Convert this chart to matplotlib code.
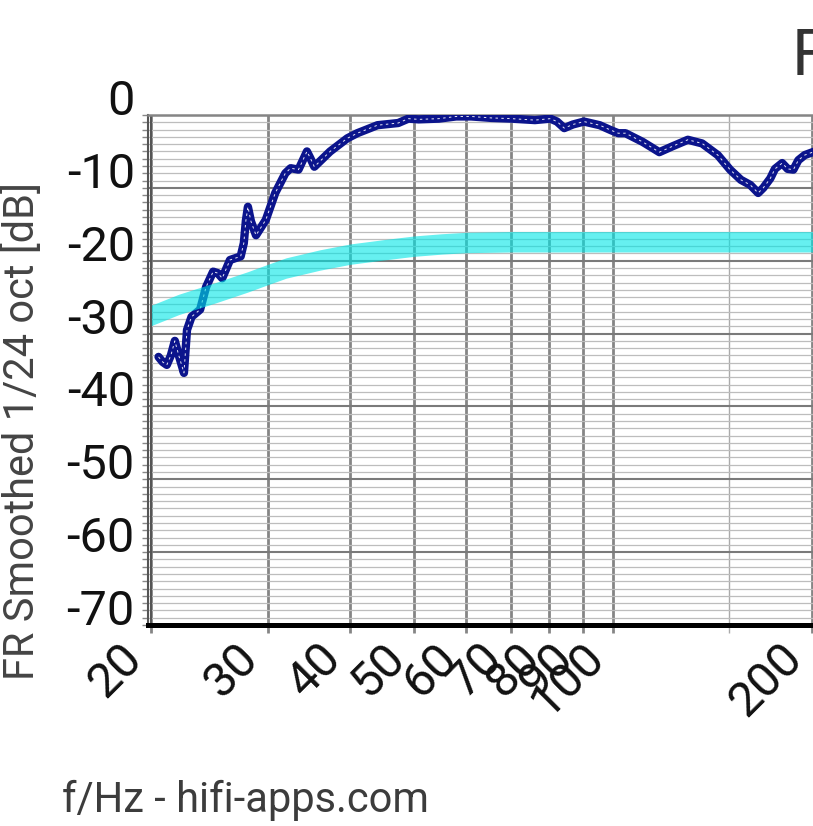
import matplotlib
matplotlib.use("Agg")
import matplotlib.pyplot as plt
from matplotlib.ticker import FixedLocator, MultipleLocator, NullFormatter

plt.rcParams['font.family'] = ['Roboto', 'DejaVu Sans']

# measured response (1/24 oct smoothed)
freq = [20.5, 20.8, 21.1, 21.4, 21.7, 22.0, 22.4, 22.64, 23.0, 23.7, 24.2, 24.8, 25.2,
        25.6, 26.3, 27.3, 27.6, 27.8, 28.0, 28.3, 28.8, 29.8, 30.8, 31.9, 32.5, 33.4,
        34.0, 34.4, 34.8, 35.3, 37.3, 39.6, 41.0, 44.0, 47.3, 49.0, 50.8, 54.5, 57.9,
        61.0, 65.4, 70.2, 76.2, 80.4, 82.3, 84.4, 87.0, 90.4, 95.5, 99.4, 101.9,
        104.5, 111, 117.6, 123.1, 129.9, 136.5, 144.2, 150.5, 156.3, 161.5, 166,
        169, 173.2, 176, 180.5, 184, 187.7, 191, 195.3, 205]
level = [-33.2, -33.9, -34.3, -33.0, -31.0, -33.0, -35.4, -29.5, -27.7, -26.7, -23.6, -21.5, -21.7,
         -22.4, -19.9, -19.4, -17.6, -14.5, -12.6, -14.6, -16.5, -14.4, -10.7, -8.0, -7.3, -7.5,
         -6.0, -5.0, -5.9, -7.1, -5.0, -3.2, -2.5, -1.4, -1.1, -0.5, -0.6, -0.5, -0.2,
         -0.2, -0.4, -0.5, -0.7, -0.5, -0.9, -1.8, -1.3, -0.9, -1.4, -2.1, -2.5,
         -2.5, -3.7, -5.1, -4.3, -3.4, -3.9, -5.5, -7.5, -8.9, -9.6, -10.7,
         -10.0, -8.7, -7.4, -6.6, -7.4, -7.5, -6.2, -5.5, -4.8]

# target curve (centre of the cyan band)
target_freq = [20, 22, 25, 28, 30, 32, 36, 40, 45, 50, 55, 60, 70, 80, 100, 150, 210]
target_level = [-27.5, -26.0, -24.4, -22.9, -21.9, -21.0, -19.9, -19.1, -18.5, -18.0,
                -17.7, -17.5, -17.4, -17.4, -17.4, -17.4, -17.4]
band = 1.4

xticks = [20, 30, 40, 50, 60, 70, 80, 90, 100, 200]
xlabels = [str(v) for v in xticks]
yticks = [0, -10, -20, -30, -40, -50, -60, -70]

fig = plt.figure(figsize=(8.13, 8.26), dpi=100)
ax = fig.add_axes([148 / 813, 201 / 826, 665 / 813, 510 / 826])
ax.set_xscale('log')
ax.set_xlim(19.76, 201.0)
ax.set_ylim(-70, 0)

ax.plot(freq, level, color='#0b148c', lw=6.0, solid_capstyle='round',
        solid_joinstyle='round', zorder=3)
ax.plot(freq, level, color='white', lw=0.7, ls=(0, (2.5, 3.5)), alpha=0.9, zorder=4)
lo = [v - band for v in target_level]
hi = [v + band for v in target_level]
ax.fill_between(target_freq, lo, hi, color='#00e6e6', alpha=0.6, lw=0, zorder=5)

ax.xaxis.set_major_locator(FixedLocator(xticks))
ax.xaxis.set_minor_locator(FixedLocator([150]))
ax.xaxis.set_minor_formatter(NullFormatter())
ax.set_xticklabels(xlabels)
ax.set_yticks(yticks)
ax.set_yticklabels([str(v) for v in yticks])
ax.yaxis.set_minor_locator(MultipleLocator(1))

ax.grid(which='major', axis='x', color='#858585', lw=2.0, zorder=1)
ax.grid(which='minor', axis='x', color='#aaaaaa', lw=1.0, zorder=1)
ax.grid(which='major', axis='y', color='#7a7a7a', lw=1.5, zorder=1)
ax.grid(which='minor', axis='y', color='#bdbdbd', lw=0.9, zorder=0.9)
ax.axvline(20, color='#555555', lw=1.5, zorder=1.5)
ax.set_axisbelow(True)

ax.tick_params(axis='x', which='major', length=6, width=2.0, color='#858585', pad=1,
               labelsize=35, labelcolor='#111111')
ax.tick_params(axis='x', which='minor', length=6, width=1.0, color='#aaaaaa')
ax.tick_params(axis='y', which='both', length=4.5, width=1.0, color='#888888',
               labelsize=35, labelcolor='#111111', pad=5)
for lab in ax.get_xticklabels():
    lab.set_rotation(45)
    lab.set_ha('right')
    lab.set_va('top')
    lab.set_rotation_mode('default')
for lab in ax.get_yticklabels():
    lab.set_va('baseline')

ax.spines['right'].set_visible(False)
ax.spines['top'].set_color('#858585')
ax.spines['top'].set_linewidth(1.8)
ax.spines['bottom'].set_color('black')
ax.spines['bottom'].set_linewidth(3.6)
ax.spines['left'].set_color('#555555')
ax.spines['left'].set_linewidth(1.5)

fig.text(22 / 813, 1 - 431 / 826, 'FR Smoothed 1/24 oct [dB]', rotation=90,
         ha='center', va='center', fontsize=30, color='#444444')
fig.text(62 / 813, 1 - 812 / 826, 'f/Hz - hifi-apps.com', ha='left', va='baseline',
         fontsize=30, color='#3c3c3c')
fig.text(792 / 813, 1 - 75 / 826, 'F', ha='left', va='baseline', fontsize=47,
         color='#333333')

fig.savefig('out.png', dpi=100)
